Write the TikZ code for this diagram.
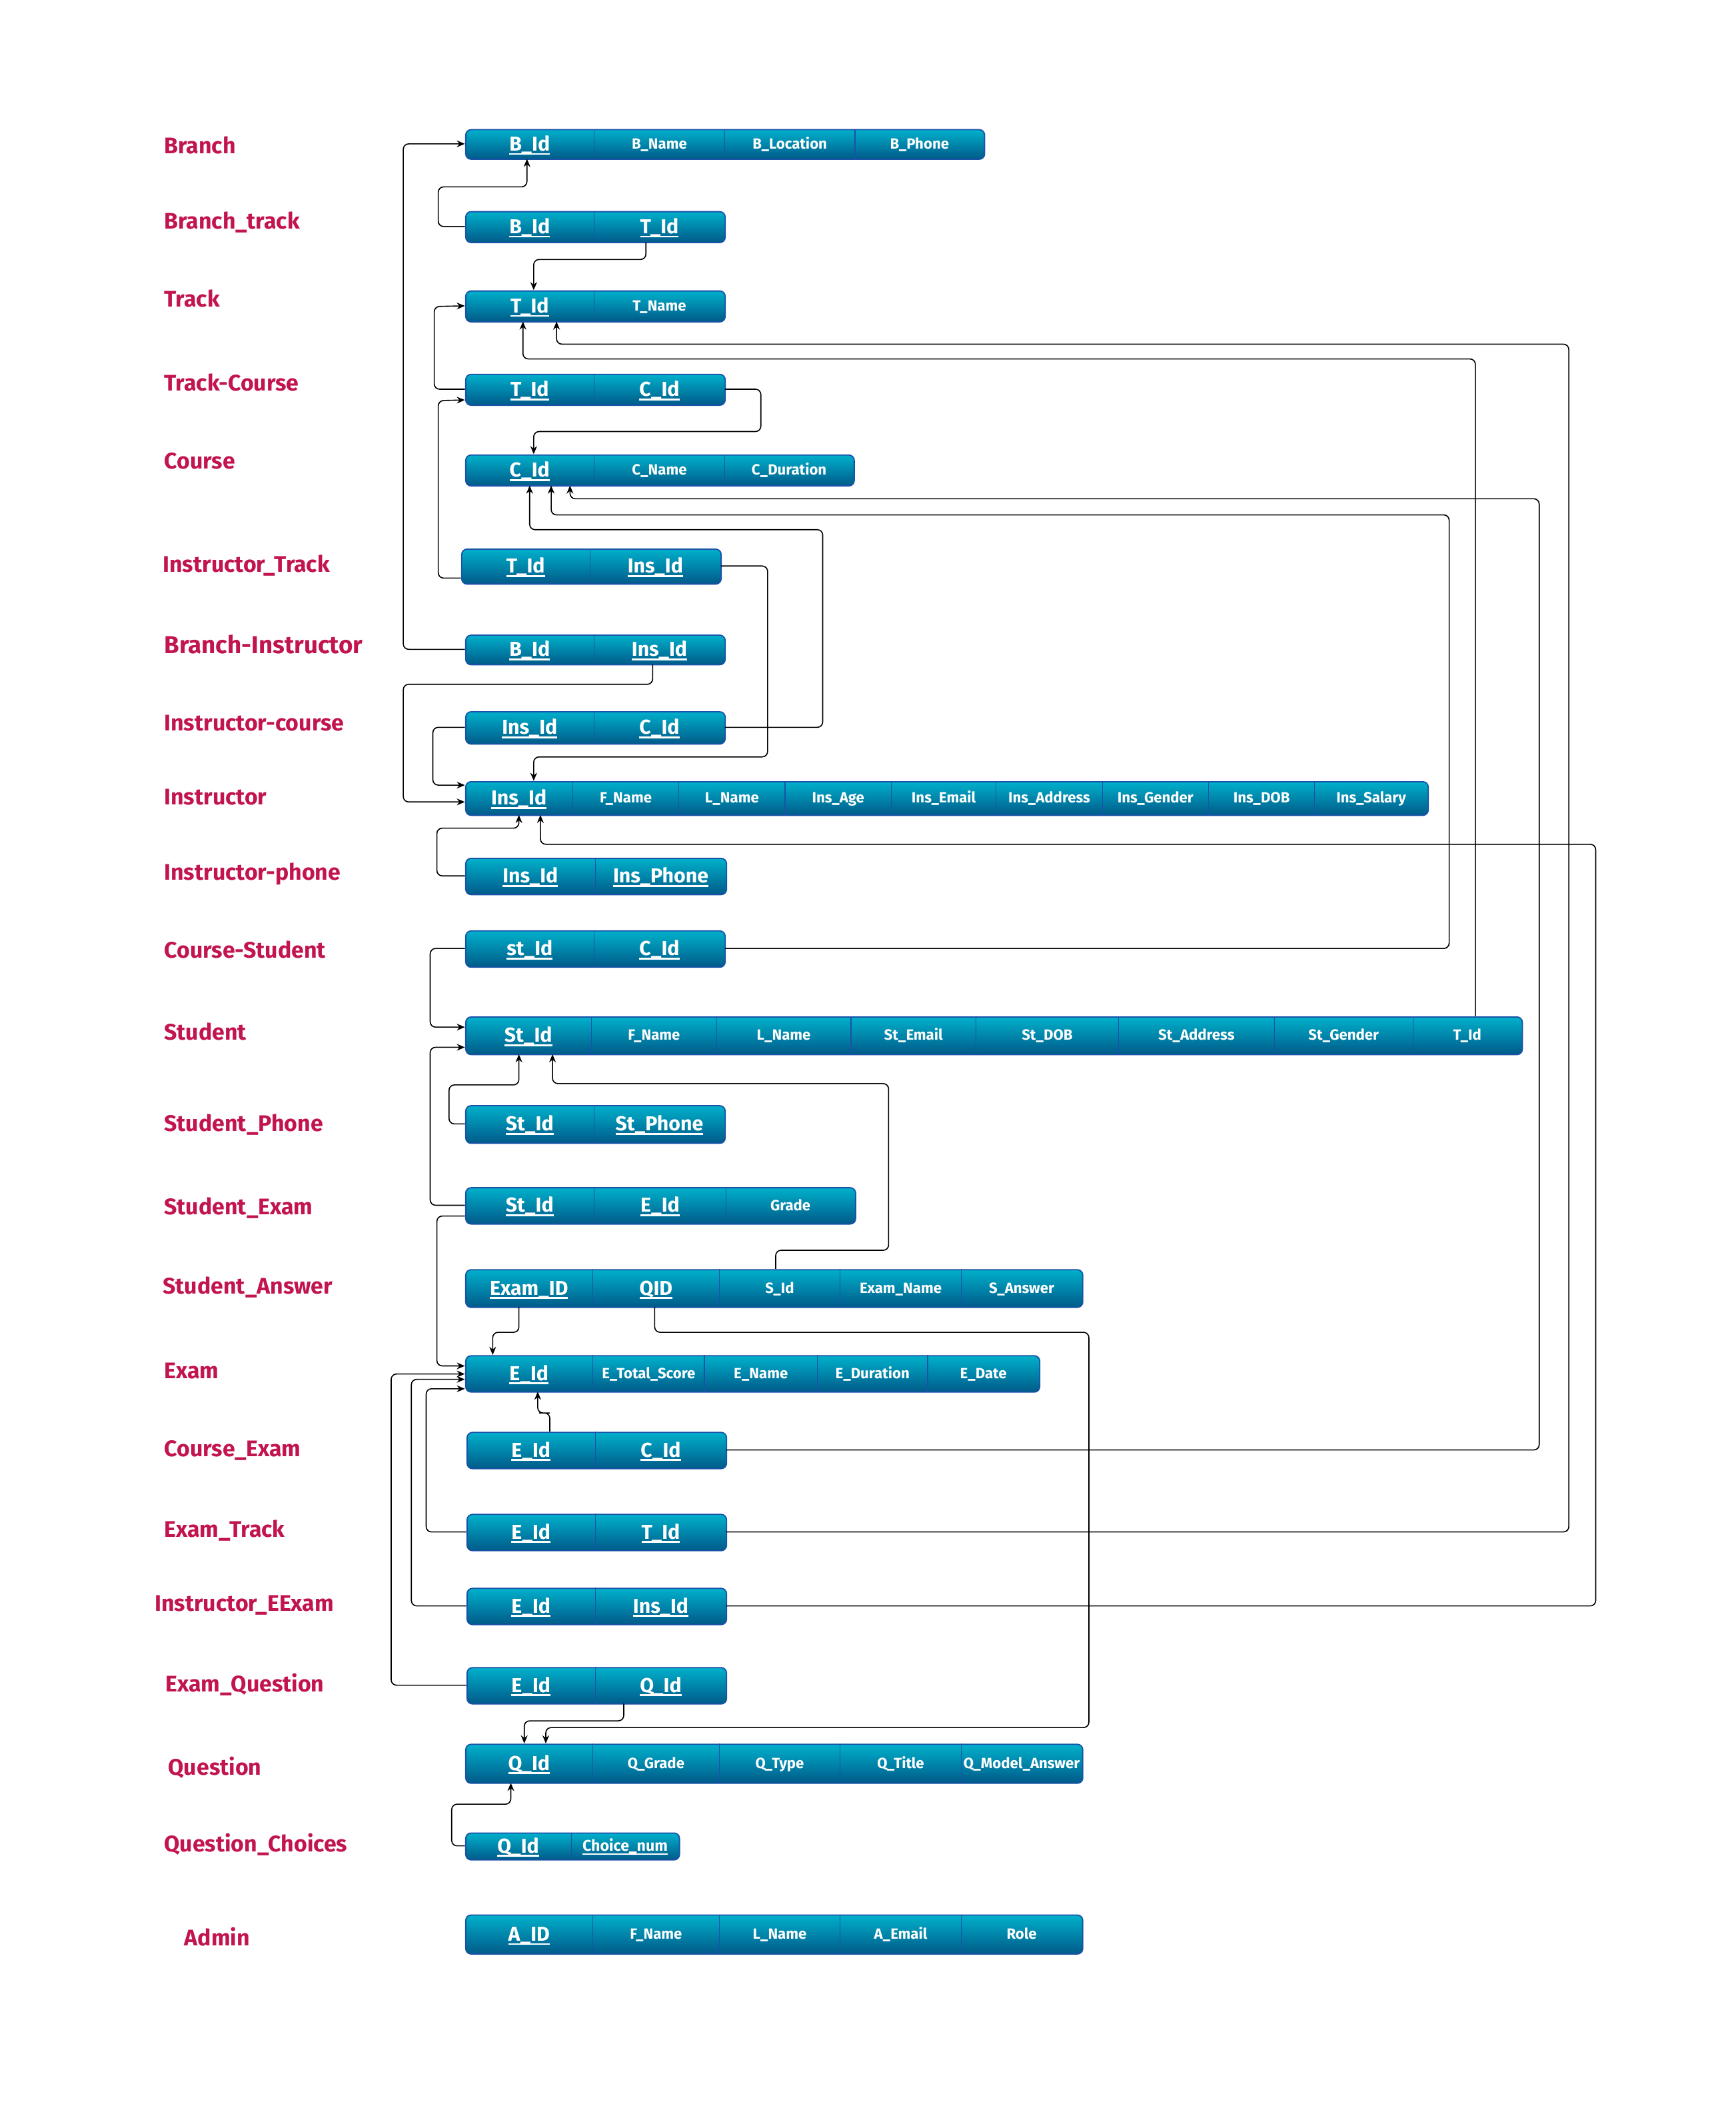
\documentclass[tikz,border=0pt]{standalone}
\usepackage{fontspec}
\setmainfont{Fira Sans}
\usetikzlibrary{arrows.meta,calc}
\definecolor{lbl}{HTML}{C2144E}
\definecolor{ctop}{HTML}{00B0CB}
\definecolor{cbot}{HTML}{005A89}
\definecolor{cbord}{HTML}{1A52A8}
\newcommand\keyf[1]{\raisebox{-1.4pt}{\fontsize{15}{15}\selectfont\setbox0\hbox{#1}\rlap{\rule[-3pt]{\wd0}{1.4pt}}\box0}}
\newcommand\keysm[1]{\raisebox{-0.3pt}{\fontsize{11.5}{12}\selectfont\setbox0\hbox{#1}\rlap{\rule[-2.6pt]{\wd0}{1.1pt}}\box0}}
\newcommand\dbtable[6]{%
  \node[tablebox, minimum width={#3-#2}, minimum height={#5-#4}, anchor=north west] (#1) at (#2,#4) {};
  \foreach \xa/\xb/\txt [count=\ci] in {#6} {
    \node[cellbox, minimum width={\xb-\xa}, minimum height={#5-#4}] (#1-\ci) at ({(\xa+\xb)/2},{(#4+#5)/2}) {\raisebox{0pt}[8.2pt][0.6pt]{\txt}};
    \ifnum\ci>1 \draw[sepline] (\xa,#4) -- (\xa,#5); \fi
  }%
}
\tikzset{
  tablebox/.style={draw=cbord, line width=0.9pt, rounded corners=4pt, top color=ctop, bottom color=cbot, inner sep=0pt},
  cellbox/.style={inner sep=0pt, text=white, font=\bfseries\fontsize{11}{11}\selectfont},
  sepline/.style={draw=cbord, line width=0.6pt},
  lab/.style={anchor=base west, text=lbl, font=\bfseries\fontsize{16.8}{17}\selectfont, inner sep=0pt},
  conn/.style={draw=black, line width=0.8pt, rounded corners=4pt, -{Stealth[length=6pt,width=5pt]}},
}
\begin{document}
\begin{tikzpicture}[x=1pt,y=-1pt]
\fill[white] (0,0) rectangle (1291,1568);
\useasboundingbox (0,0) rectangle (1291,1568);

% labels
\node[lab] (l1) at (122,114.5) {Branch};
\node[lab] (l2) at (122,170.5) {Branch\_track};
\node[lab] (l3) at (122,228.5) {Track};
\node[lab] (l4) at (122,290.5) {Track-Course};
\node[lab] (l5) at (122,348.5) {Course};
\node[lab] (l6) at (121,425.5) {Instructor\_Track};
\node[lab, font=\bfseries\fontsize{18.2}{19}\selectfont] (l7) at (122,486) {Branch-Instructor};
\node[lab] (l8) at (122,543.5) {Instructor-course};
\node[lab] (l9) at (122,598.5) {Instructor};
\node[lab] (l10) at (122,654.5) {Instructor-phone};
\node[lab] (l11) at (122,712.5) {Course-Student};
\node[lab] (l12) at (122,773.5) {Student};
\node[lab] (l13) at (122,841.5) {Student\_Phone};
\node[lab] (l14) at (122,903.5) {Student\_Exam};
\node[lab] (l15) at (121,962.5) {Student\_Answer};
\node[lab] (l16) at (122,1025.5) {Exam};
\node[lab] (l17) at (122,1083.5) {Course\_Exam};
\node[lab] (l18) at (122,1143.5) {Exam\_Track};
\node[lab] (l19) at (115,1198.5) {Instructor\_EExam};
\node[lab] (l20) at (123,1258.5) {Exam\_Question};
\node[lab] (l21) at (125,1320.5) {Question};
\node[lab] (l22) at (122,1377.5) {Question\_Choices};
\node[lab] (l23) at (137,1447.5) {Admin};

% tables
\dbtable{br}{346}{732}{96}{118}{346/442/\keyf{B\_Id},442/539/B\_Name,539/636/B\_Location,636/732/B\_Phone}
\dbtable{bt}{346}{539}{157}{180}{346/442/\keyf{B\_Id},442/539/\keyf{T\_Id}}
\dbtable{tr}{346}{539}{216}{239}{346/442/\keyf{T\_Id},442/539/T\_Name}
\dbtable{tc}{346}{539}{278}{301}{346/442/\keyf{T\_Id},442/539/\keyf{C\_Id}}
\dbtable{co}{346}{635}{338}{361}{346/442/\keyf{C\_Id},442/539/C\_Name,539/635/C\_Duration}
\dbtable{it}{343}{536}{408}{434}{343/439/\keyf{T\_Id},439/536/\keyf{Ins\_Id}}
\dbtable{bi}{346}{539}{472}{494}{346/442/\keyf{B\_Id},442/539/\keyf{Ins\_Id}}
\dbtable{ic}{346}{539}{529}{553}{346/442/\keyf{Ins\_Id},442/539/\keyf{C\_Id}}
\dbtable{in}{346}{1062}{581}{606}{346/426/\keyf{Ins\_Id},426/505/F\_Name,505/584/L\_Name,584/663/Ins\_Age,663/741/Ins\_Email,741/820/Ins\_Address,820/899/Ins\_Gender,899/978/Ins\_DOB,978/1062/Ins\_Salary}
\dbtable{ip}{346}{540}{638}{665}{346/443/\keyf{Ins\_Id},443/540/\keyf{Ins\_Phone}}
\dbtable{cs}{346}{539}{692}{719}{346/442/\keyf{st\_Id},442/539/\keyf{C\_Id}}
\dbtable{st}{346}{1132}{756}{784}{346/440/\keyf{St\_Id},440/533/F\_Name,533/633/L\_Name,633/726/St\_Email,726/832/St\_DOB,832/948/St\_Address,948/1051/St\_Gender,1051/1132/T\_Id}
\dbtable{sp}{346}{539}{822}{850}{346/442/\keyf{St\_Id},442/539/\keyf{St\_Phone}}
\dbtable{se}{346}{636}{883}{910}{346/442/\keyf{St\_Id},442/540/\keyf{E\_Id},540/636/Grade}
\dbtable{sa}{346}{805}{944}{972}{346/441/\keyf{Exam\_ID},441/535/\keyf{QID},535/625/S\_Id,625/715/Exam\_Name,715/805/S\_Answer}
\dbtable{ex}{346}{773}{1008}{1035}{346/441/\keyf{E\_Id},441/524/E\_Total\_Score,524/608/E\_Name,608/690/E\_Duration,690/773/E\_Date}
\dbtable{ce}{347}{540}{1065}{1092}{347/443/\keyf{E\_Id},443/540/\keyf{C\_Id}}
\dbtable{et}{347}{540}{1126}{1153}{347/443/\keyf{E\_Id},443/540/\keyf{T\_Id}}
\dbtable{ie}{347}{540}{1181}{1208}{347/443/\keyf{E\_Id},443/540/\keyf{Ins\_Id}}
\dbtable{eq}{347}{540}{1240}{1267}{347/443/\keyf{E\_Id},443/540/\keyf{Q\_Id}}
\dbtable{qu}{346}{805}{1297}{1326}{346/441/\keyf{Q\_Id},441/535/Q\_Grade,535/625/Q\_Type,625/715/Q\_Title,715/805/Q\_Model\_Answer}
\dbtable{qc}{346}{505}{1363}{1383}{346/425/\keyf{Q\_Id},425/505/\keysm{Choice\_num}}
\dbtable{ad}{346}{805}{1424}{1453}{346/441/\keyf{A\_ID},441/535/F\_Name,535/625/L\_Name,625/715/A\_Email,715/805/Role}

% connectors
\draw[conn] (bt-1.west) -| (326,139) -| ($(br-1.south)+(-2,0)$);
\draw[conn] (bi-1.west) -| (300,107) -- (br-1.west);
\draw[conn] ($(bt-2.south)+(-10,0)$) |- (420,193) -| ($(tr-1.north)+(3,0)$);
\draw[conn] (tc-1.west) -| (323,228) -- (tr-1.west);
\draw[conn] (tc-2.east) -| (566,321) -| ($(co-1.north)+(3,0)$);
\draw[conn] ($(it-1.west)+(0,9)$) -| (326,298) -- ($(tc-1.west)+(0,8)$);
\draw[conn] (et-2.east) -| (1167,256) -| ($(tr-1.south)+(20,0)$);
\draw[conn] ($(st-8.north)+(6,0)$) |- (700,267) -| ($(tr-1.south)+(-5,0)$);
\draw[conn] (ce-2.east) -| (1145,371) -| ($(co-1.south)+(30,0)$);
\draw[conn] (cs-2.east) -| (1078,383) -| ($(co-1.south)+(16,0)$);
\draw[conn] (ic-2.east) -| (612,394) -| (co-1.south);
\draw[conn] (it-2.east) -| (571,563) -| ($(in-1.north)+(11,0)$);
\draw[conn] ($(bi-2.south)+(-5,0)$) |- (300,509) |- ($(in-1.west)+(0,3)$);
\draw[conn] (ic-1.west) -| (322,584) -- ($(in-1.west)+(0,-9.5)$);
\draw[conn] (ip-1.west) -| (325,616) -| (in-1.south);
\draw[conn] (ie-2.east) -| (1187,628) -| ($(in-1.south)+(16,0)$);
\draw[conn] (cs-1.west) -| (320,764) -- ($(st-1.west)+(0,-6)$);
\draw[conn] (se-1.west) -| (320,779) -- ($(st-1.west)+(0,9)$);
\draw[conn] (sp-1.west) -| (334,807) -| ($(st-1.south)+(-7,0)$);
\draw[conn] ($(sa-3.north)+(-3,0)$) |- (661,930) |- (500,806) -| ($(st-1.south)+(18,0)$);
\draw[conn] ($(se-1.west)+(0,8)$) -| (325,1016) -- ($(ex-1.west)+(0,-5.5)$);
\draw[conn] ($(sa-1.south)+(-7.5,0)$) |- (375,991) -| ($(ex-1.north)+(-27,0)$);
\draw[conn] ($(sa-2.south)+(-1,0)$) |- (810,991) |- (600,1285) -| ($(qu-1.north)+(12.5,0)$);
\draw[conn] ($(ce-1.north)+(14,0)$) |- (405,1051) -| ($(ex-1.south)+(6.5,0)$);
\draw[conn] (et-1.west) -| (317,1033) -- ($(ex-1.west)+(0,11.5)$);
\draw[conn] (ie-1.west) -| (306,1026) -- ($(ex-1.west)+(0,4.5)$);
\draw[conn] (eq-1.west) -| (291,1022) -- ($(ex-1.west)+(0,0.5)$);
\draw[conn] ($(eq-2.south)+(-27.5,0)$) |- (420,1280) -| ($(qu-1.north)+(-3.5,0)$);
\draw[conn] (qc-1.west) -| (336,1342) -| ($(qu-1.south)+(-13.5,0)$);
\end{tikzpicture}
\end{document}
